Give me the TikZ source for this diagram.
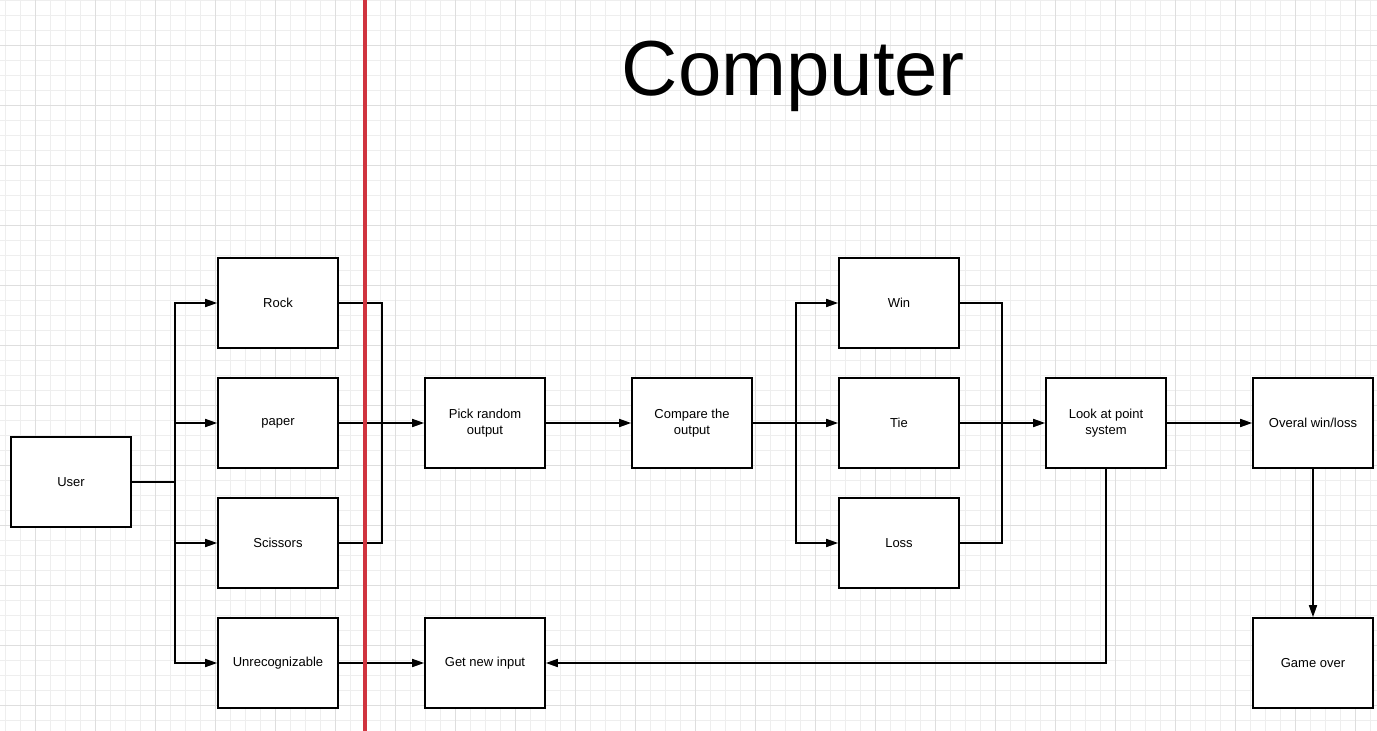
\documentclass[tikz,border=0pt]{standalone}
\usepackage{fontspec}
\setmainfont{Liberation Sans}
\usepackage{tikz}
\usetikzlibrary{arrows.meta}

\definecolor{gridminor}{HTML}{EEEEEE}
\definecolor{gridmajor}{HTML}{DEDEDE}
\definecolor{divider}{HTML}{D0343F}

\begin{document}
\begin{tikzpicture}[x=1pt, y=-1pt,
	box/.style={rectangle, draw=black, line width=1.6pt, fill=white, minimum width=120pt, minimum height=90pt, inner sep=0pt, align=center, font=\fontsize{13}{16}\selectfont},
	link/.style={line width=1.6pt, black},
	arr/.style={link, -{Triangle[length=12pt, width=8pt]}}]
			\useasboundingbox (0,0) rectangle (1377,731);
			
			% Grid
			\fill[white] (0,0) rectangle (1377,731);
			\foreach \x in {0,...,91} \draw[gridminor, line width=0.9pt] (5.7+15*\x,0) -- (5.7+15*\x,731);
			\foreach \y in {0,...,48} \draw[gridminor, line width=0.9pt] (0,15*\y) -- (1377,15*\y);
			\foreach \x in {0,...,22} \draw[gridmajor, line width=0.9pt] (35.7+60*\x,0) -- (35.7+60*\x,731);
			\foreach \y in {0,...,11} \draw[gridmajor, line width=0.9pt] (0,45+60*\y) -- (1377,45+60*\y);
			
			% Title
			\node[anchor=base, font=\fontsize{78}{80}\selectfont] (title) at (793,95) {Computer};
			
			% Nodes
			\node[box] (user) at (71,482) {User};
			\node[box] (rock) at (278,303) {Rock};
			\node[box] (paper) at (278,423) {paper};
			\node[box] (scissors) at (278,543) {Scissors};
			\node[box] (unrec) at (278,663) {Unrecognizable};
			\node[box] (pick) at (485,423) {Pick random\\output};
			\node[box] (getnew) at (485,663) {Get new input};
			\node[box] (compare) at (692,423) {Compare the\\output};
			\node[box] (win) at (899,303) {Win};
			\node[box] (tie) at (899,423) {Tie};
			\node[box] (loss) at (899,543) {Loss};
			\node[box] (look) at (1106,423) {Look at point\\system};
			\node[box] (overal) at (1313,423) {Overal win/loss};
			\node[box] (gameover) at (1313,663) {Game over};
			
			\coordinate (userfork) at (175,482);
			\coordinate (rockjoin) at (382,423);
			\coordinate (comparefork) at (796,423);
			\coordinate (resultjoin) at (1002,423);
			
			% Edges
			\draw[link] (user) -- (userfork);
			\draw[arr] (userfork) |- (rock);
			\draw[arr] (userfork) |- (paper);
			\draw[arr] (userfork) |- (scissors);
			\draw[arr] (userfork) |- (unrec);
			\draw[link] (rock.east) -| (rockjoin) |- (scissors.east);
			\draw[arr] (paper) -- (pick);
			\draw[arr] (unrec) -- (getnew);
			\draw[arr] (pick) -- (compare);
			\draw[link] (compare) -- (comparefork);
			\draw[arr] (comparefork) |- (win);
			\draw[arr] (comparefork) |- (tie);
			\draw[arr] (comparefork) |- (loss);
			\draw[link] (win.east) -| (resultjoin) |- (loss.east);
			\draw[arr] (tie) -- (look);
			\draw[arr] (look) -- (overal);
			\draw[arr] (overal) -- (gameover);
			\draw[arr] (look.south) |- (getnew.east);
			
			% Divider
			\draw[divider, line width=4pt] (365,0) -- (365,731);
		\end{tikzpicture}
\end{document}
